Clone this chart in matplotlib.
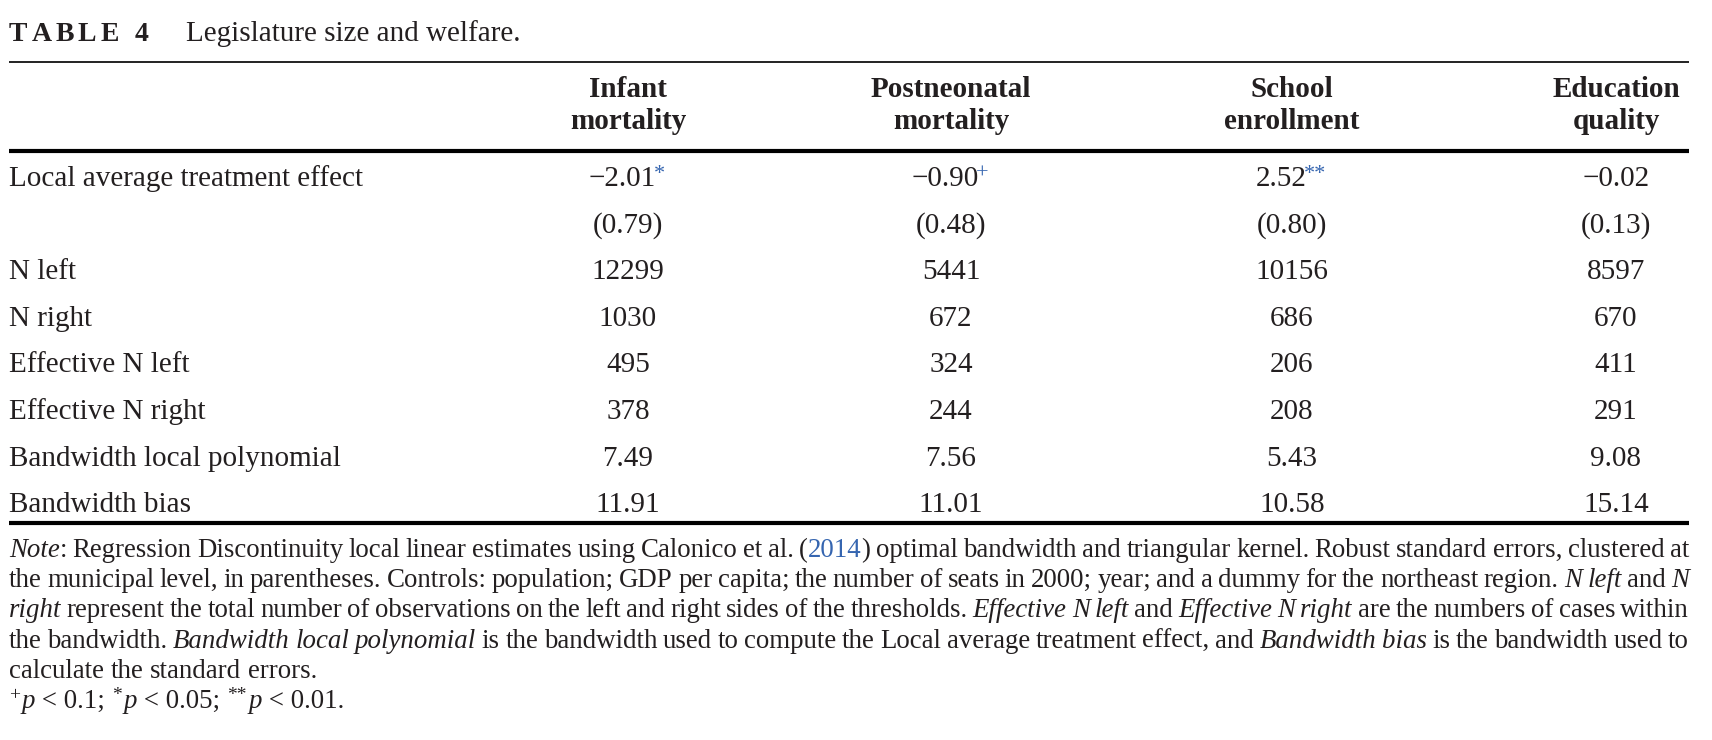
import matplotlib
matplotlib.use("Agg")
import matplotlib.pyplot as plt

TITLE_TAG = "TABLE 4"
TITLE = "Legislature size and welfare."

COLUMNS = [("Infant", "mortality"),
           ("Postneonatal", "mortality"),
           ("School", "enrollment"),
           ("Education", "quality")]

ROW_LABELS = ["Local average treatment effect", "", "N left", "N right",
              "Effective N left", "Effective N right",
              "Bandwidth local polynomial", "Bandwidth bias"]

LATE = ["\u22122.01", "\u22120.90", "2.52", "\u22120.02"]
LATE_STARS = ["*", "+", "**", ""]
LATE_SE = ["(0.79)", "(0.48)", "(0.80)", "(0.13)"]
N_LEFT = ["12299", "5441", "10156", "8597"]
N_RIGHT = ["1030", "672", "686", "670"]
EFF_N_LEFT = ["495", "324", "206", "411"]
EFF_N_RIGHT = ["378", "244", "208", "291"]
BW_POLY = ["7.49", "7.56", "5.43", "9.08"]
BW_BIAS = ["11.91", "11.01", "10.58", "15.14"]

# note lines: (text, style) with style n = normal, i = italic, b = blue link
NOTE_LINES = [
    [("Note", "i"), (": Regression Discontinuity local linear estimates using Calonico et al. (", "n"),
     ("2014", "b"), (") optimal bandwidth and triangular kernel. Robust standard errors, clustered at", "n")],
    [("the municipal level, in parentheses. Controls: population; GDP per capita; the number of seats in 2000; "
      "year; and a dummy for the northeast region. ", "n"), ("N left", "i"), (" and ", "n"), ("N", "i")],
    [("right", "i"), (" represent the total number of observations on the left and right sides of the thresholds. ", "n"),
     ("Effective N left", "i"), (" and ", "n"), ("Effective N right", "i"), (" are the numbers of cases within", "n")],
    [("the bandwidth. ", "n"), ("Bandwidth local polynomial", "i"),
     (" is the bandwidth used to compute the Local average treatment effect, and ", "n"),
     ("Bandwidth bias", "i"), (" is the bandwidth used to", "n")],
    [("calculate the standard errors.", "n")],
]
SIG_NOTE = [("+", "s"), ("p", "i"), (" < 0.1; ", "n"), ("*", "s"), ("p", "i"), (" < 0.05; ", "n"),
            ("**", "s"), ("p", "i"), (" < 0.01.", "n")]

TXT = "#231f20"
BLUE = "#3565b0"
FONT = "Liberation Serif"
W, H = 1712, 740
X0, X1 = 9, 1689
COL_X = [628, 951, 1292, 1616]
BODY = 21
NOTE = 19.4

fig = plt.figure(figsize=(W / 100, H / 100), dpi=100)
ax = fig.add_axes([0, 0, 1, 1])
ax.set_xlim(0, W)
ax.set_ylim(H, 0)
ax.axis("off")
renderer = fig.canvas.get_renderer()


def put(x, y, s, size, weight="normal", style="normal", color=TXT, ha="left"):
    t = ax.text(x, round(y), s, fontsize=size, family=FONT, fontweight=weight,
                fontstyle=style, color=color, ha=ha, va="baseline")
    return t


def text_width(s, size, weight="normal", style="normal"):
    t = ax.text(0, 0, s, fontsize=size, family=FONT, fontweight=weight, fontstyle=style)
    w = t.get_window_extent(renderer).width
    t.remove()
    return w


# title
x = X0
for ch in TITLE_TAG:
    put(x, 41, ch, 20, weight="bold")
    x += text_width(ch, 20, weight="bold") + 4 if ch != " " else 12
put(186, 41, TITLE, BODY)

# rules
ax.plot([X0, X1], [62, 62], color="#111111", lw=1.3, solid_capstyle="butt")
ax.plot([X0, X1], [151, 151], color="#000000", lw=3.0, solid_capstyle="butt")
ax.plot([X0, X1], [523, 523], color="#000000", lw=3.0, solid_capstyle="butt")

# header
for cx, (l1, l2) in zip(COL_X, COLUMNS):
    put(cx, 97, l1, BODY, weight="bold", ha="center")
    put(cx, 129, l2, BODY, weight="bold", ha="center")

# body
ROW_Y0, ROW_DY = 186, 46.6
table = [LATE, LATE_SE, N_LEFT, N_RIGHT, EFF_N_LEFT, EFF_N_RIGHT, BW_POLY, BW_BIAS]
for i, (label, vals) in enumerate(zip(ROW_LABELS, table)):
    y = ROW_Y0 + i * ROW_DY
    if label:
        put(X0, y, label, BODY)
    for j, v in enumerate(vals):
        star = LATE_STARS[j] if i == 0 else ""
        if star:
            wv = text_width(v, BODY)
            ws = text_width(star, 16)
            left = COL_X[j] - (wv + ws) / 2
            put(left, y, v, BODY)
            put(left + wv - 2, y - 7, star, 16, color=BLUE)
        else:
            put(COL_X[j], y, v, BODY, ha="center")


def seg_props(st):
    if st == "i":
        return dict(style="italic", color=TXT)
    if st == "b":
        return dict(style="normal", color=BLUE)
    return dict(style="normal", color=TXT)


# notes, justified except last line
NOTE_Y0, NOTE_DY = 557, 30.2
for k, line in enumerate(NOTE_LINES):
    y = NOTE_Y0 + k * NOTE_DY
    words = [[]]
    for s, st in line:
        parts = s.split(" ")
        for n, p in enumerate(parts):
            if n > 0:
                words.append([])
            if p:
                words[-1].append((p, st))
    words = [w for w in words if w]
    widths = [[text_width(p, NOTE, style=seg_props(st)["style"]) for p, st in w] for w in words]
    total = sum(sum(w) for w in widths)
    if k < len(NOTE_LINES) - 1 and len(words) > 1:
        gap = (X1 - X0 - total) / (len(words) - 1)
    else:
        gap = text_width("a b", NOTE) - text_width("ab", NOTE)
    x = X0
    for w, ws in zip(words, widths):
        for (p, st), pw in zip(w, ws):
            pr = seg_props(st)
            put(x, y, p, NOTE, style=pr["style"], color=pr["color"])
            x += pw
        x += gap

# significance line
y = NOTE_Y0 + len(NOTE_LINES) * NOTE_DY
x = X0
for s, st in SIG_NOTE:
    if st == "s":
        put(x, y - 8, s, 14)
        x += text_width(s, 14) + 2
    elif st == "i":
        put(x, y, s, NOTE, style="italic")
        x += text_width(s, NOTE, style="italic")
    else:
        put(x, y, s, NOTE)
        x += text_width(s, NOTE)

fig.savefig("out.png", dpi=100, facecolor="white")
